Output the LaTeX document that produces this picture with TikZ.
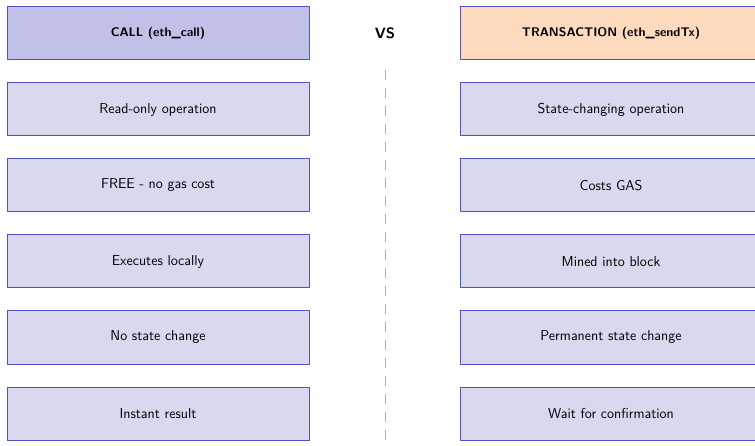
\documentclass[tikz,border=0pt]{standalone}
\usepackage{tikz}
\definecolor{callfill}{RGB}{192,192,232}
\definecolor{txfill}{RGB}{253,218,190}
\definecolor{itemfill}{RGB}{216,216,238}
\definecolor{boxline}{RGB}{82,82,188}
\begin{document}
\begin{tikzpicture}[x=1pt, y=-1pt, font=\sffamily\fontsize{14.3}{17}\selectfont, line join=round,
 box/.style={draw=boxline, line width=1pt, minimum width=302pt, minimum height=53pt, inner sep=0pt},
 head/.style={box, font=\sffamily\bfseries\fontsize{12.5}{15}\selectfont},
 item/.style={box, fill=itemfill}]
 \useasboundingbox (0,0) rectangle (755,446);
 \def\xl{158}\def\xr{611}\def\xm{385}
 \node[head, fill=callfill] (call) at (\xl,33.5) {CALL (eth\_call)};
 \node[head, fill=txfill] (tx) at (\xr,33.5) {TRANSACTION (eth\_sendTx)};
 \node[font=\sffamily\bfseries\fontsize{15}{18}\selectfont] (vs) at (\xm,33.5) {VS};
 \foreach \i/\a/\b in {1/Read-only operation/State-changing operation,
   2/FREE - no gas cost/Costs GAS,
   3/Executes locally/Mined into block,
   4/No state change/Permanent state change,
   5/Instant result/Wait for confirmation}{
   \node[item] (call\i) at (\xl,33.5+76*\i) {\a};
   \node[item] (tx\i) at (\xr,33.5+76*\i) {\b};
 }
 \coordinate (top) at (\xm,70);
 \coordinate (bot) at (\xm,446);
 \draw[gray!60, line width=1pt, dash pattern=on 10pt off 8pt] (top) -- (bot);
\end{tikzpicture}
\end{document}
